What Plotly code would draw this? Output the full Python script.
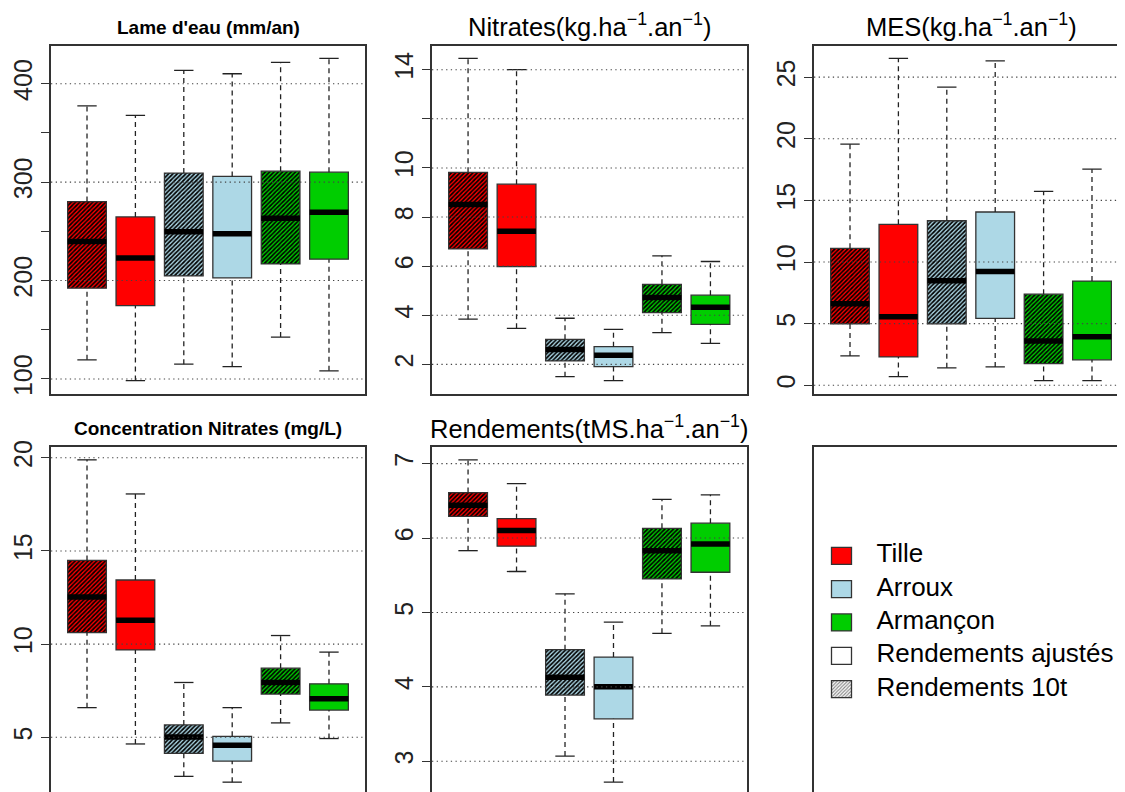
import plotly.graph_objects as go

# values: [lower whisker, Q1, median, Q3, upper whisker]
# box order: Tille 10t, Tille ajustés, Arroux 10t, Arroux ajustés, Armançon 10t, Armançon ajustés
lame_eau = [[119.4, 192.2, 239.7, 280.3, 377.6],
            [98.3, 174.5, 223.0, 264.7, 367.8],
            [115.0, 204.7, 249.5, 309.2, 413.6],
            [112.6, 202.7, 247.5, 305.8, 410.2],
            [142.5, 216.9, 263.4, 311.2, 421.7],
            [108.2, 221.7, 269.5, 310.2, 425.8]]
nitrates = [[3.84, 6.70, 8.51, 9.82, 14.46],
            [3.47, 5.98, 7.42, 9.34, 14.00],
            [1.50, 2.14, 2.61, 3.02, 3.88],
            [1.34, 1.91, 2.37, 2.72, 3.43],
            [3.29, 4.11, 4.72, 5.26, 6.42],
            [2.86, 3.63, 4.33, 4.82, 6.19]]
mes = [[2.38, 4.98, 6.61, 11.11, 19.56],
       [0.70, 2.30, 5.55, 13.06, 26.52],
       [1.41, 4.98, 8.48, 13.35, 24.19],
       [1.49, 5.42, 9.24, 14.06, 26.33],
       [0.38, 1.76, 3.60, 7.39, 15.74],
       [0.38, 2.06, 3.93, 8.45, 17.53]]
conc_nitrates = [[6.59, 10.62, 12.53, 14.49, 19.89],
                 [4.64, 9.69, 11.28, 13.44, 18.06],
                 [2.90, 4.13, 5.02, 5.66, 7.94],
                 [2.59, 3.72, 4.57, 5.05, 6.59],
                 [5.77, 7.32, 7.94, 8.71, 10.46],
                 [4.93, 6.46, 7.07, 7.87, 9.57]]
rendements = [[5.83, 6.29, 6.44, 6.61, 7.05],
              [5.55, 5.89, 6.10, 6.26, 6.73],
              [3.07, 3.89, 4.13, 4.50, 5.25],
              [2.72, 3.57, 4.00, 4.40, 4.87],
              [4.72, 5.45, 5.83, 6.13, 6.52],
              [4.82, 5.54, 5.92, 6.20, 6.58]]

box_colors = ["#FF0000", "#FF0000", "#ADD8E6", "#ADD8E6", "#00CD00", "#00CD00"]
box_hatch = ["/", "", "/", "", "/", ""]

# labelled y ticks, unlabelled ticks, dotted grid levels
lame_ticks = [100, 200, 300, 400]
lame_bare = [150, 250, 350]
nitr_ticks = [2, 4, 6, 8, 10, 14]
nitr_bare = [12]
nitr_grid = [2, 4, 6, 8, 10, 12, 14]
mes_ticks = [0, 5, 10, 15, 20, 25]
conc_ticks = [5, 10, 15, 20]
rend_ticks = [3, 4, 5, 6, 7]

legend_labels = ["Tille", "Arroux", "Armançon", "Rendements ajustés", "Rendements 10t"]
legend_colors = ["#FF0000", "#ADD8E6", "#00CD00", "white", "white"]
legend_hatch = ["", "", "", "", "/"]

W, H = 1125, 792
OFF = 8  # the page body margin shifts the figure 8px right/down
FONT = "Liberation Sans, Arial, sans-serif"


def dom_x(a, b):
    return [(a - OFF) / W, (b - OFF) / W]


def dom_y(top, bottom):
    return [1 - (bottom - OFF) / H, 1 - (top - OFF) / H]


ROW1 = (45.5, 393.5)
ROW2 = (447, 795)
COL1 = (51, 365)
COL2 = (432, 746.5)
COL3 = (814, 1128)

# panel: data, title, bold?, x px, y px, y range, ticks, bare ticks, grid
panels = [
    (lame_eau, "Lame d'eau (mm/an)", True, COL1, ROW1, [85.2, 438.9], lame_ticks, lame_bare, lame_ticks),
    (nitrates, "Nitrates(kg.ha<sup>\u22121</sup>.an<sup>\u22121</sup>)", False, COL2, ROW1, [0.815, 14.985],
     nitr_ticks, nitr_bare, nitr_grid),
    (mes, "MES(kg.ha<sup>\u22121</sup>.an<sup>\u22121</sup>)", False, COL3, ROW1, [-0.67, 27.57],
     mes_ticks, [], mes_ticks),
    (conc_nitrates, "Concentration Nitrates (mg/L)", True, COL1, ROW2, [1.90, 20.58],
     conc_ticks, [], conc_ticks),
    (rendements, "Rendements(tMS.ha<sup>\u22121</sup>.an<sup>\u22121</sup>)", False, COL2, ROW2, [2.547, 7.223],
     rend_ticks, [], rend_ticks),
]

fig = go.Figure()
layout = {}
annotations = []
shapes = []
frame = dict(showline=True, linecolor="#333333", linewidth=1.5, mirror=True, zeroline=False,
             showgrid=False, fixedrange=True)

for k, (data, title, bold, px_x, px_y, yr, ticks, bare, grid) in enumerate(panels):
    n = k + 1
    xa = "xaxis" if n == 1 else "xaxis%d" % n
    ya = "yaxis" if n == 1 else "yaxis%d" % n
    xr_ref = "x" if n == 1 else "x%d" % n
    yr_ref = "y" if n == 1 else "y%d" % n

    pos = list(range(1, len(data) + 1))
    lo = [d[0] for d in data]
    q1 = [d[1] for d in data]
    med = [d[2] for d in data]
    q3 = [d[3] for d in data]
    hi = [d[4] for d in data]

    # boxes, one trace each so the hatch keeps black lines on the fill colour
    for p, a, b, col, hatch in zip(pos, q1, q3, box_colors, box_hatch):
        fig.add_trace(go.Bar(
            x=[p], base=[a], y=[b - a], width=0.8,
            marker=dict(color=col, line=dict(color="#333333", width=1.3),
                        pattern=dict(shape=hatch, fgcolor="black", bgcolor=col, fgopacity=1,
                                     size=3.05, solidity=0.55, fillmode="replace")),
            xaxis=xr_ref, yaxis=yr_ref, showlegend=False, hoverinfo="skip"))

    # dashed whiskers
    wx, wy = [], []
    for p, a, b, c, d in zip(pos, lo, q1, q3, hi):
        wx += [p, p, None, p, p, None]
        wy += [a, b, None, c, d, None]
    fig.add_trace(go.Scatter(x=wx, y=wy, mode="lines", line=dict(color="#222222", width=1.3, dash="5px,4px"),
                             xaxis=xr_ref, yaxis=yr_ref, showlegend=False, hoverinfo="skip"))

    # whisker caps
    cx, cy = [], []
    for p, a, d in zip(pos, lo, hi):
        cx += [p - 0.2, p + 0.2, None, p - 0.2, p + 0.2, None]
        cy += [a, a, None, d, d, None]
    fig.add_trace(go.Scatter(x=cx, y=cy, mode="lines", line=dict(color="#222222", width=1.3),
                             xaxis=xr_ref, yaxis=yr_ref, showlegend=False, hoverinfo="skip"))

    # medians
    mx, my = [], []
    for p, m in zip(pos, med):
        mx += [p - 0.4, p + 0.4, None]
        my += [m, m, None]
    fig.add_trace(go.Scatter(x=mx, y=my, mode="lines", line=dict(color="black", width=5.5),
                             xaxis=xr_ref, yaxis=yr_ref, showlegend=False, hoverinfo="skip"))

    layout[xa] = dict(domain=dom_x(*px_x), range=[0.256, 6.744], showticklabels=False, ticks="",
                      anchor=yr_ref, **frame)
    layout[ya] = dict(domain=dom_y(*px_y), range=yr, tickmode="array", tickvals=ticks,
                      ticktext=[str(v) for v in ticks],
                      ticks="outside", ticklen=8, tickwidth=1.3, tickcolor="#333333", tickangle=-90,
                      tickfont=dict(family=FONT, size=25, color="#222222"), ticklabelstandoff=-1,
                      minor=dict(tickmode="array", tickvals=bare, ticks="outside" if bare else "",
                                 ticklen=8, tickwidth=1.3, tickcolor="#333333", showgrid=False),
                      anchor=xr_ref, **frame)

    for v in grid:
        shapes.append(dict(type="line", xref="%s domain" % xr_ref, x0=0, x1=1, yref=yr_ref, y0=v, y1=v,
                           line=dict(color="#444444", width=1.1, dash="1.3px,3.4px"), layer="above"))

    title_y = 27 if px_y is ROW1 else 428.5
    if not bold:
        title_y -= 2
    annotations.append(dict(
        text="<b>%s</b>" % title if bold else title, xref="paper", yref="paper",
        x=((px_x[0] + px_x[1]) / 2 - OFF) / W, y=1 - (title_y - OFF) / H, xanchor="center", yanchor="middle",
        showarrow=False, font=dict(family=FONT, size=19 if bold else 25.5, color="black")))

# legend panel (box coordinates in pixels from its top-left corner)
lx, ly = "x6", "y6"
rows = [108.8 + i * 33.33 for i in range(len(legend_labels))]
for r, col, hatch in zip(rows, legend_colors, legend_hatch):
    fig.add_trace(go.Bar(
        x=[28], base=[r - 8.5], y=[17], width=20,
        marker=dict(color=col, line=dict(color="#333333", width=1.3),
                    pattern=dict(shape=hatch, fgcolor="#888888", bgcolor=col, fgopacity=1,
                                 size=2.4, solidity=0.45, fillmode="replace")),
        xaxis=lx, yaxis=ly, showlegend=False, hoverinfo="skip"))
fig.add_trace(go.Scatter(
    x=[63] * len(legend_labels), y=rows, mode="text", text=legend_labels, textposition="middle right",
    textfont=dict(family=FONT, size=26, color="black"), xaxis=lx, yaxis=ly, showlegend=False, hoverinfo="skip"))
layout["xaxis6"] = dict(domain=dom_x(813.5, 1128), range=[0, 314.5], showticklabels=False, ticks="",
                        anchor="y6", **frame)
layout["yaxis6"] = dict(domain=dom_y(*ROW2), range=[348, 0], showticklabels=False, ticks="",
                        anchor="x6", **frame)

fig.update_layout(**layout)
fig.update_layout(
    width=W, height=H, margin=dict(l=0, r=0, t=0, b=0, autoexpand=False),
    paper_bgcolor="white", plot_bgcolor="white", showlegend=False, barmode="overlay",
    annotations=annotations, shapes=shapes, font=dict(family=FONT))

fig.write_html("out.html")
